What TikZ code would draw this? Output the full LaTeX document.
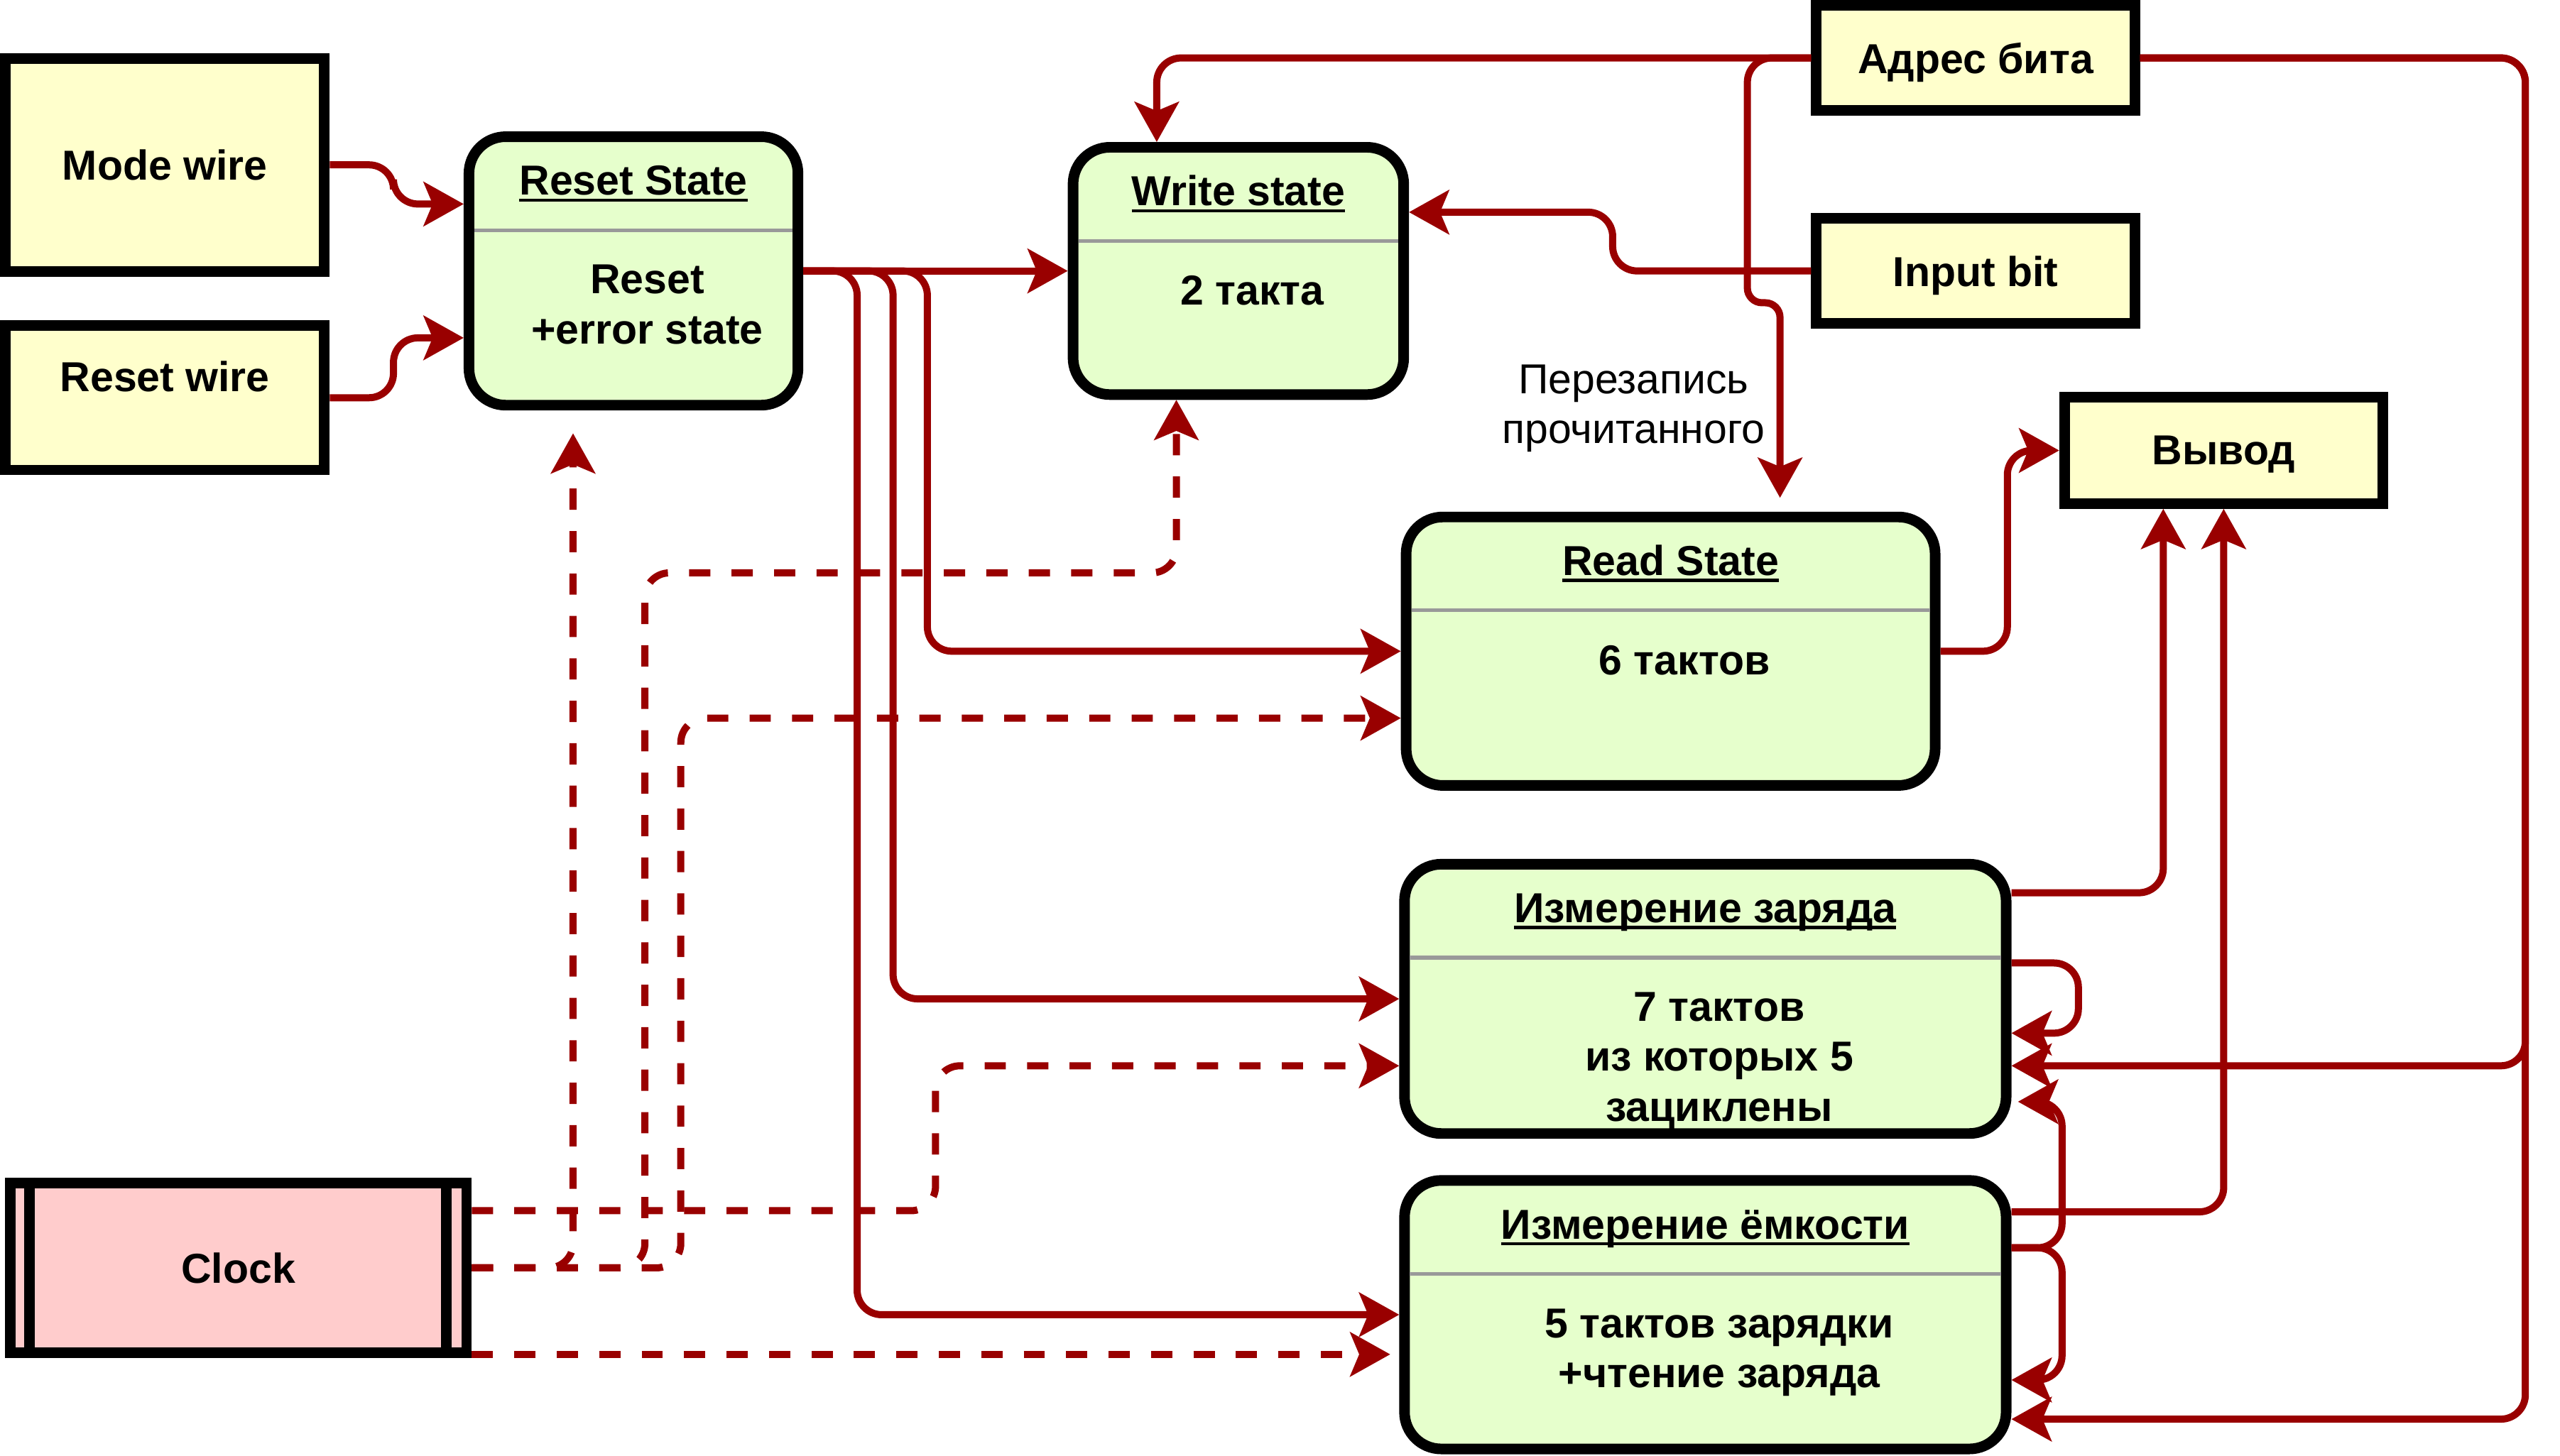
\documentclass[tikz,border=0pt]{standalone}
\usepackage{fontspec}
\setmainfont{Liberation Sans}
\usetikzlibrary{arrows.meta,calc}
\definecolor{wirered}{HTML}{990000}
\definecolor{iofill}{HTML}{FFFFCC}
\definecolor{statefill}{HTML}{E6FFCC}
\definecolor{clockfill}{HTML}{FFCCCC}
\newcommand\ulbox[1]{\setbox0\hbox{#1}\rlap{\rule[-2.3pt]{\wd0}{1.1pt}}\box0}

\begin{document}
\begin{tikzpicture}[x=0.2mm,y=-0.2mm,
    >={Stealth[length=4.9mm,width=5.4mm,inset=1.1mm]},
    every node/.style={font=\fontsize{14.6}{17.4}\selectfont\bfseries},
    io/.style={draw,line width=1.3mm,fill=iofill,minimum width=39mm,text depth=0pt},
    statebox/.style={draw,line width=1.3mm,fill=statefill,rounded corners=4.5mm},
    divider/.style={draw=black!40,line width=0.45mm},
    link/.style={->,draw=wirered,line width=0.87mm,rounded corners=3mm},
    clkline/.style={link,dash pattern=on 2.6mm off 2.6mm}]
  \useasboundingbox (0,0) rectangle (1568,892);
  % name, centre, width, height, title, body
  \def\statenode#1#2#3#4#5#6{%
    \node[statebox,minimum width=#3,minimum height=#4] (#1) at (#2) {};
    \node[anchor=base,inner sep=0pt] (#1-title) at ($(#1.north)+(0,39)$) {\ulbox{#5}};
    \draw[divider] ($(#1.north west)+(6.5,60.5)$) -- ($(#1.north east)+(-6.5,60.5)$);
    \node[anchor=north,inner sep=0pt,align=center] (#1-body) at ($(#1.north)+(8.5,81.5)$) {#6};}

  \node[io,minimum width=39.1mm,minimum height=26.1mm] (mode) at (101,101) {Mode wire};
  \node[io,minimum width=39.1mm,minimum height=17.7mm,text depth=5.3mm] (rwire) at (101,243.7) {Reset wire};
  \node[io,minimum height=12.9mm] (adr) at (1210,35.5) {Адрес бита};
  \node[io,minimum height=12.9mm] (inp) at (1210,166) {Input bit};
  \node[io,minimum height=13mm] (out) at (1362,276) {Вывод};
  \node[draw,line width=1.3mm,fill=clockfill,minimum width=55.9mm,minimum height=20.8mm] (clk) at (146,776.8) {Clock};
  \draw[line width=1.3mm] ([xshift=3mm]clk.north west) -- ([xshift=3mm]clk.south west);
  \draw[line width=1.3mm] ([xshift=-3.1mm]clk.north east) -- ([xshift=-3.1mm]clk.south east);

  \statenode{rst}{388,166}{40.3mm}{32.9mm}{Reset State}{Reset\\+error state}
  \statenode{wr}{758.5,166}{40.5mm}{30.3mm}{Write state}{2 такта}
  \statenode{rd}{1023.25,399}{64.8mm}{32.9mm}{Read State}{6 тактов}
  \statenode{chg}{1044.5,612}{73.7mm}{33mm}{Измерение заряда}{7 тактов\\из которых 5\\зациклены}
  \statenode{cap}{1044.5,805.5}{73.7mm}{32.9mm}{Измерение ёмкости}{5 тактов зарядки\\+чтение заряда}

  \node[anchor=north,inner sep=0pt,align=center,font=\fontsize{14.6}{17.4}\selectfont] (note) at (1000.5,223) {Перезапись\\прочитанного};

  \draw[link] (mode.east) -- ++(39,0) |- ($(rst.west)+(0,-41)$);
  \draw[link] (rwire.east) -- ++(39,0) |- ($(rst.west)+(0,41)$);
  \draw[link] (rst.east) -- (wr.west);
  \draw[link] (rst.east) -- ++(76,0) |- (rd.west);
  \draw[link] (rst.east) -- ++(55,0) |- (chg.west);
  \draw[link] (rst.east) -- ++(33,0) |- (cap.west);
  \draw[link] (adr.west) -| ($(wr.north)+(-50,0)$);
  \draw[link,shorten >=1.7mm] (adr.west) -- ++(-39,0) [rounded corners=1.8mm] |- ($(rd.north)+(67,-128)$) -- ($(rd.north)+(67,0)$);
  \draw[link] (adr.east) -- ++(236,0) |- ($(chg.east)+(0,41)$);
  \draw[link] (adr.east) -- ++(236,0) |- ($(cap.east)+(0,64)$);
  \draw[link] (inp.west) -- ++(-121.5,0) |- ($(wr.east)+(0,-36)$);
  \draw[link] (rd.east) -- ++(41,0) |- (out.west);
  \draw[link] ($(chg.east)+(0,-65)$) -| ($(out.south)+(-37,0)$);
  \draw[link] ($(cap.east)+(0,-63)$) -| (out.south);
  \draw[link] ($(chg.east)+(0,-22)$) -- ++(41,0) |- ($(chg.east)+(0,21)$);
  \draw[link] ($(cap.east)+(0,-41)$) -- ++(31,0) |- ($(chg.east)+(4,63)$);
  \draw[link] ($(cap.east)+(0,-41)$) -- ++(31,0) |- ($(cap.east)+(0,40)$);

  \draw[clkline,shorten >=2.8mm] (clk.east) -| ($(rst.south)+(-37,0)$);
  \draw[clkline] (clk.east) -- ++(106,0) |- ($(wr.south)+(-38,106)$) -- ($(wr.south)+(-38,0)$);
  \draw[clkline] (clk.east) -- ++(128,0) |- ($(rd.west)+(0,41)$);
  \draw[clkline] ($(clk.east)+(0,-35)$) -- ++(284,0) |- ($(chg.west)+(0,41)$);
  \draw[clkline,shorten >=1.1mm] ($(clk.east)+(0,53)$) coordinate (cl) -- (cl -| cap.west);
\end{tikzpicture}
\end{document}
